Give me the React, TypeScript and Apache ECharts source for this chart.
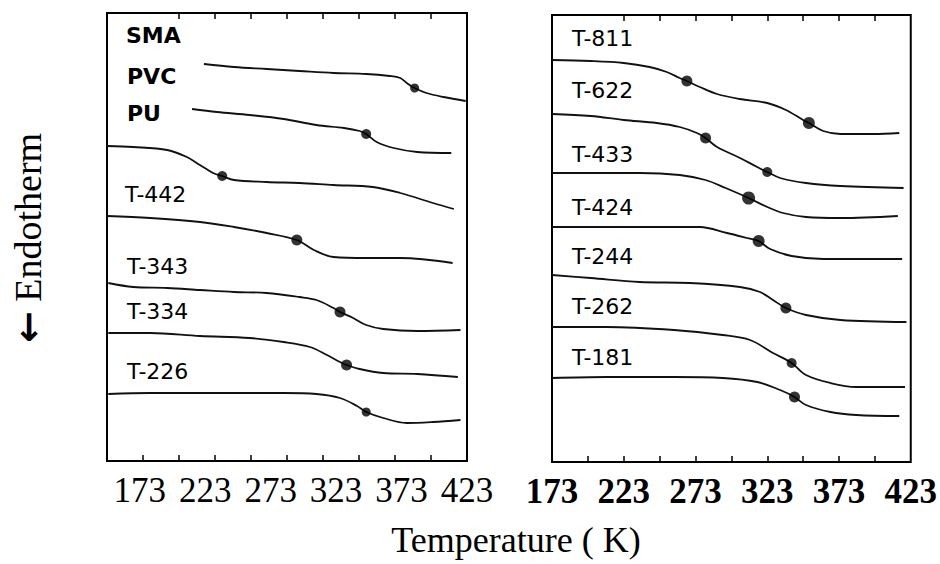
import React, { useEffect, useRef } from "react";
import * as echarts from "echarts";

// ---- Labels ----
const leftNames = ["SMA", "PVC", "PU", "T-442", "T-343", "T-334", "T-226"];
const rightNames = ["T-811", "T-622", "T-433", "T-424", "T-244", "T-262", "T-181"];
const tickLabels = [173, 223, 273, 323, 373, 423];
const leftTicks = [175.5, 203, 230.5, 258, 285.5, 313, 340.5, 368, 395.5];
const rightTicks = [198, 223, 248, 273, 298, 323, 348, 373, 398];

// ---- Left panel curves: [T (K), heat flow (arb.)] ----
const smaCurve = [[222, 397], [245, 394], [270, 392], [295, 390], [321, 388], [346, 387], [364, 385], [372, 383], [377, 378], [383, 373], [392, 368], [405, 364], [422, 360]];
const pvcCurve = [[213, 352], [232, 349], [257, 346], [283, 342], [308, 336], [329, 333], [341, 330], [346, 327], [354, 319], [367, 313], [385, 309], [411, 308]];
const puCurve = [[148, 315], [168, 314], [194, 311], [209, 304], [219, 296], [229, 288], [236, 285], [245, 281], [270, 279], [295, 278], [321, 276], [351, 274], [372, 268], [397, 258], [413, 252]];
const t442Curve = [[148, 245], [181, 243], [219, 239], [245, 234], [270, 228], [293, 221], [306, 211], [321, 204], [346, 203], [372, 203], [412, 198]];
const t343Curve = [[149, 178], [168, 174], [194, 173], [219, 171], [245, 169], [270, 168], [295, 164], [308, 161], [321, 153], [326, 149], [336, 143], [346, 136], [359, 132], [385, 130], [418, 131]];
const t334Curve = [[149, 128], [181, 128], [219, 125], [257, 123], [283, 119], [303, 114], [316, 106], [326, 99], [331, 96], [341, 92], [359, 88], [385, 87], [416, 84]];
const t226Curve = [[149, 67], [181, 68], [219, 68], [257, 68], [283, 68], [308, 67], [326, 63], [339, 55], [346, 49], [359, 43], [377, 38], [397, 39], [418, 41]];

// ---- Right panel curves ----
const t811Curve = [[173, 402], [200, 401], [223, 399], [241, 395], [253, 390], [262, 384], [267, 381], [276, 375], [288, 368], [304, 363], [323, 359], [336, 352], [348, 342], [352, 339], [362, 331], [374, 328], [397, 328], [415, 329]];
const t622Curve = [[173, 348], [200, 346], [223, 342], [246, 339], [262, 335], [274, 329], [280, 324], [288, 315], [304, 304], [316, 295], [323, 290], [332, 284], [350, 279], [374, 276], [418, 274]];
const t433Curve = [[173, 289], [200, 289], [234, 289], [262, 287], [280, 282], [294, 274], [310, 264], [323, 255], [334, 249], [350, 245], [374, 244], [414, 246]];
const t424Curve = [[173, 235], [211, 235], [246, 235], [276, 235], [295, 229], [309, 224], [317, 221], [325, 213], [340, 206], [362, 203], [417, 203]];
const t244Curve = [[173, 187], [200, 184], [234, 180], [269, 179], [304, 175], [318, 170], [327, 162], [336, 154], [350, 147], [374, 142], [420, 140]];
const t262Curve = [[173, 135], [211, 135], [258, 132], [292, 127], [311, 122], [327, 109], [340, 99], [350, 87], [367, 79], [385, 75], [419, 75]];
const t181Curve = [[173, 84], [211, 85], [258, 85], [292, 84], [316, 80], [332, 72], [342, 65], [350, 57], [367, 50], [385, 47], [415, 46]];

// ---- Glass transition markers ----
const leftTg = [[383, 373], [346, 327], [236, 285], [293, 221], [326, 149], [331, 96], [346, 49]];
const rightTg = [[267, 381], [352, 339], [280, 324], [323, 290], [310, 264], [317, 221], [336, 154], [340, 99], [342, 65]];

// styles (not data)
const leftTgSize = [9, 10, 10, 11, 11, 11, 9];
const rightTgSize = [11, 12, 11, 10, 13, 12, 11, 10, 11];
const leftLabelPos = [[126, 35.5], [127, 76.5], [127, 113], [125, 194.5], [127, 266], [127, 311.5], [127, 371]];
const rightLabelPos = [[572, 38], [572, 90], [572, 154.5], [572, 207.5], [572, 256], [572, 306], [572, 357.5]];

const leftCurves = [smaCurve, pvcCurve, puCurve, t442Curve, t343Curve, t334Curve, t226Curve];
const rightCurves = [t811Curve, t622Curve, t433Curve, t424Curve, t244Curve, t262Curve, t181Curve];

const serif = "'Liberation Serif', 'Times New Roman', 'DejaVu Serif', serif";
const sans = "'DejaVu Sans', sans-serif";

export default function App() {
  const ref = useRef<HTMLDivElement>(null);
  useEffect(() => {
    if (!ref.current) return;
    const chart = echarts.init(ref.current, undefined, { renderer: "svg" });

    const tickStyle = { color: "#000", width: 1.5 };
    const mkBottom = (grid: number, min: number, max: number, ticks: number[], bold: boolean) => ({
      type: "value",
      gridIndex: grid,
      min,
      max,
      position: "bottom",
      axisLine: { show: false },
      splitLine: { show: false },
      axisTick: { show: true, inside: true, length: 6, customValues: ticks, lineStyle: tickStyle },
      axisLabel: {
        customValues: tickLabels,
        fontFamily: serif,
        fontSize: 35,
        fontWeight: bold ? "bold" : "normal",
        color: "#000",
        margin: 12,
      },
    });
    const mkTop = (grid: number, min: number, max: number, ticks: number[]) => ({
      type: "value",
      gridIndex: grid,
      min,
      max,
      position: "top",
      axisLine: { show: false },
      splitLine: { show: false },
      axisTick: { show: true, inside: true, length: 6, customValues: ticks.slice(1), lineStyle: tickStyle },
      axisLabel: { show: false },
    });

    const series: any[] = [];
    leftCurves.forEach((c, i) =>
      series.push({
        type: "line",
        name: leftNames[i],
        xAxisIndex: 0,
        yAxisIndex: 0,
        data: c,
        symbol: "none",
        smooth: 0.35,
        lineStyle: { color: "#111", width: 1.8 },
      })
    );
    rightCurves.forEach((c, i) =>
      series.push({
        type: "line",
        name: rightNames[i],
        xAxisIndex: 2,
        yAxisIndex: 1,
        data: c,
        symbol: "none",
        smooth: 0.35,
        lineStyle: { color: "#111", width: 1.8 },
      })
    );
    series.push({
      type: "scatter",
      name: "Tg left",
      xAxisIndex: 0,
      yAxisIndex: 0,
      data: leftTg.map((p, i) => ({ value: p, symbolSize: leftTgSize[i] })),
      itemStyle: { color: "#000" },
      z: 5,
    });
    series.push({
      type: "scatter",
      name: "Tg right",
      xAxisIndex: 2,
      yAxisIndex: 1,
      data: rightTg.map((p, i) => ({ value: p, symbolSize: rightTgSize[i] })),
      itemStyle: { color: "#000" },
      z: 5,
    });

    const labelTexts: any[] = [];
    leftNames.forEach((n, i) =>
      labelTexts.push({
        type: "text",
        x: leftLabelPos[i][0],
        y: leftLabelPos[i][1],
        style: {
          text: n,
          fontFamily: sans,
          fontSize: 22,
          fontWeight: i < 3 ? "bold" : "normal",
          fill: "#000",
          verticalAlign: "middle",
          align: "left",
        },
      })
    );
    rightNames.forEach((n, i) =>
      labelTexts.push({
        type: "text",
        x: rightLabelPos[i][0],
        y: rightLabelPos[i][1],
        style: {
          text: n,
          fontFamily: sans,
          fontSize: 22,
          fill: "#000",
          verticalAlign: "middle",
          align: "left",
        },
      })
    );
    labelTexts.push({
      type: "text",
      x: 516,
      y: 540,
      style: {
        text: "Temperature ( K)",
        fontFamily: serif,
        fontSize: 36,
        fill: "#000",
        align: "center",
        verticalAlign: "middle",
      },
    });
    labelTexts.push({
      type: "text",
      x: 28,
      y: 238,
      rotation: Math.PI / 2,
      style: {
        text: "{a|\u2190} Endotherm",
        fontFamily: serif,
        fontSize: 38,
        fill: "#000",
        align: "center",
        verticalAlign: "middle",
        rich: {
          a: { fontFamily: "'DejaVu Sans', sans-serif", fontSize: 38, fontWeight: "bold", fill: "#000", verticalAlign: "middle" },
        },
      },
    });

    chart.setOption({
      animation: false,
      backgroundColor: "#fff",
      grid: [
        { left: 107, top: 13, width: 360, height: 448, show: true, borderColor: "#000", borderWidth: 2, backgroundColor: "transparent" },
        { left: 552, top: 15, width: 359, height: 447, show: true, borderColor: "#000", borderWidth: 2, backgroundColor: "transparent" },
      ],
      xAxis: [
        mkBottom(0, 148, 423, leftTicks, false),
        mkTop(0, 148, 423, leftTicks),
        mkBottom(1, 173, 423, rightTicks, true),
        mkTop(1, 173, 423, rightTicks),
      ],
      yAxis: [
        { type: "value", gridIndex: 0, min: 0, max: 448, show: false },
        { type: "value", gridIndex: 1, min: 0, max: 447, show: false },
      ],
      series,
      graphic: labelTexts,
    });
    return () => chart.dispose();
  }, []);
  return <div ref={ref} style={{ position: "fixed", left: 0, top: 0, width: 940, height: 564, background: "#fff" }} />;
}
